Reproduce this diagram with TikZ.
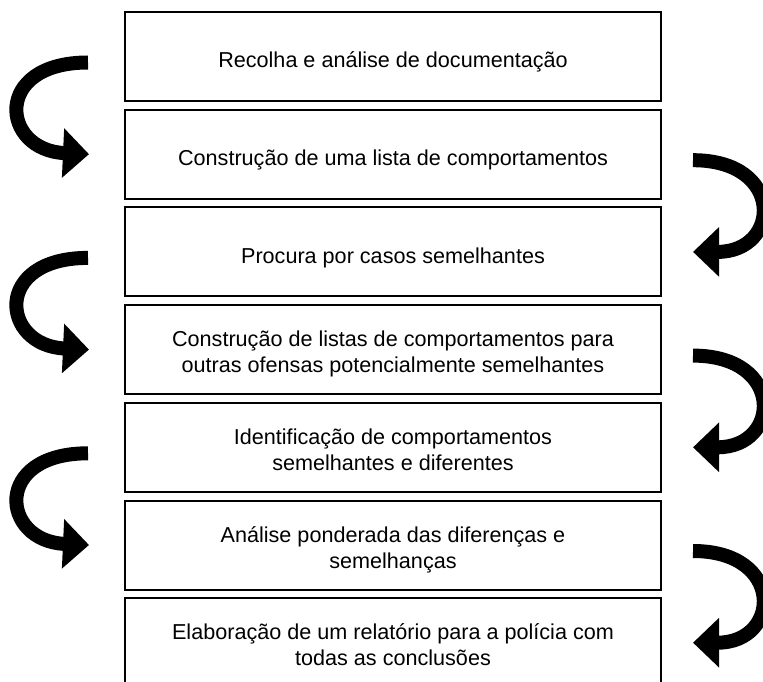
\documentclass[tikz,border=0pt]{standalone}
\usepackage{fontspec}
\setmainfont{Liberation Sans}
\usetikzlibrary{positioning,arrows.meta,calc}
\tikzset{
  etapa/.style={draw,line width=2pt,minimum width=536pt,minimum height=89pt,
    align=center,inner sep=0pt,font=\fontsize{21.6}{26}\selectfont,
    text height=24pt,text depth=1.5pt},
  etapa2/.style={etapa,text height=48pt,text depth=2pt},
  curva/.style={line width=14pt,-{Triangle[length=26pt,width=48pt]}}
}

\begin{document}
\begin{tikzpicture}[x=1pt,y=1pt,node distance=6.7pt]
\useasboundingbox (0,0) rectangle (763,-682);
\node[etapa] (recolha) at (393,-56.5) {Recolha e análise de documentação};
\node[etapa,below=of recolha] (lista) {Construção de uma lista de comportamentos};
\node[etapa,below=of lista] (casos) {Procura por casos semelhantes};
\node[etapa2,below=of casos] (outras) {Construção de listas de comportamentos para\\outras ofensas potencialmente semelhantes};
\node[etapa2,below=of outras] (ident) {Identificação de comportamentos\\semelhantes e diferentes};
\node[etapa2,below=of ident] (analise) {Análise ponderada das diferenças e\\semelhanças};
\node[etapa2,below=of analise] (relatorio) {Elaboração de um relatório para a polícia com\\todas as conclusões};

% setas da esquerda
\foreach \a/\b in {recolha/lista,casos/outras,ident/analise}
  \draw[curva] ([xshift=-36pt,yshift=-6pt]\a.west) .. controls +(-96,0) and +(-88,4) .. ([xshift=-35pt]\b.west);
% setas da direita
\foreach \a/\b in {lista/casos,outras/ident,analise/relatorio}
  \draw[curva] ([xshift=31pt,yshift=-6pt]\a.east) .. controls +(92,0) and +(88,0) .. ([xshift=31pt]\b.east);
\end{tikzpicture}
\end{document}
